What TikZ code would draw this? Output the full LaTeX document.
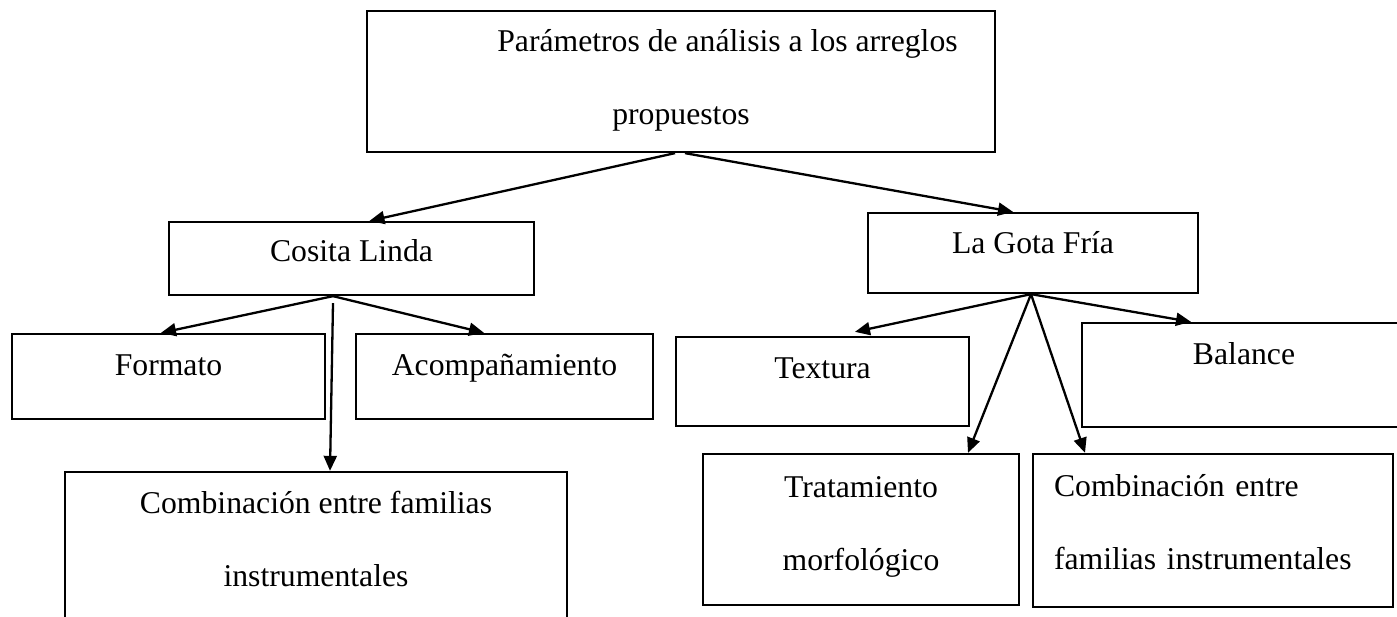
\documentclass[tikz,border=0pt]{standalone}
\usepackage{fontspec}
\setmainfont{Liberation Serif}
\usetikzlibrary{arrows.meta}

\begin{document}
\begin{tikzpicture}[x=1pt,y=-1pt,
    box/.style={shape=rectangle,draw,line width=2.3pt,inner sep=0pt,
      font=\fontsize{31.7}{73}\selectfont,align=center},
    textpos/.style 2 args={text height=#1,text depth=#2},
    link/.style={line width=2.3pt,-{Triangle[length=15pt,width=13pt]}}]

      \useasboundingbox (0,0) rectangle (1397,617);

      \path node (params) at (681,81.5)
            [box,minimum width=628,minimum height=141,textpos={87pt}{0pt}]
            {\hspace*{93pt}Parámetros de análisis a los arreglos\\propuestos};

      \path node (cosita) at (351.5,258.5)
            [box,minimum width=365,minimum height=73,textpos={7pt}{0pt}]
            {Cosita Linda};

      \path node (gota) at (1033,253)
            [box,minimum width=330,minimum height=80,textpos={2pt}{0pt}]
            {La Gota Fría};

      \path node (formato) at (168.5,376.5)
            [box,minimum width=313,minimum height=85,textpos={0pt}{3pt}]
            {Formato};

      \path node (acomp) at (504.5,376.5)
            [box,minimum width=297,minimum height=85,textpos={0pt}{3pt}]
            {Acompañamiento};

      \path node (combleft) at (316,561)
            [box,minimum width=502,minimum height=178,textpos={50pt}{0pt}]
            {Combinación entre familias\\instrumentales};

      \path node (textura) at (822.5,381.5)
            [box,minimum width=293,minimum height=89,textpos={0pt}{7pt}]
            {Textura};

      \path node (balance) at (1244,375)
            [box,minimum width=324,minimum height=104,textpos={0pt}{22pt}]
            {Balance};

      \path node (tratamiento) at (861,529.5)
            [box,minimum width=316,minimum height=151,textpos={81pt}{0pt}]
            {Tratamiento\\morfológico};

      \path node (combright) at (1213,530.5)
            [box,minimum width=360,minimum height=153,textpos={0pt}{69pt},
             text width=318pt,align=left]
            {Combinación entre\\familias instrumentales};

      \draw[link] ([xshift=-6pt]params.south) -- ([xshift=18pt]cosita.north);
      \draw[link] ([xshift=4pt]params.south) -- ([xshift=-20pt]gota.north);

      \draw[link] ([xshift=-18.5pt]cosita.south) -- ([xshift=-7.5pt]formato.north);
      \draw[link] ([xshift=-18.5pt]cosita.south) -- ([xshift=-20.5pt]acomp.north);
      \draw[link] ([xshift=-18.5pt,yshift=-7pt]cosita.south)
            -- ([xshift=14pt]combleft.north);

      \draw[link] ([xshift=-2pt]gota.south) -- ([xshift=32.5pt,yshift=4pt]textura.north);
      \draw[link] ([xshift=-2pt]gota.south) -- ([xshift=-53pt]balance.north);
      \draw[link] ([xshift=-2pt]gota.south) -- ([xshift=107pt]tratamiento.north);
      \draw[link] ([xshift=-2pt]gota.south) -- ([xshift=-128pt]combright.north);
    \end{tikzpicture}
\end{document}
